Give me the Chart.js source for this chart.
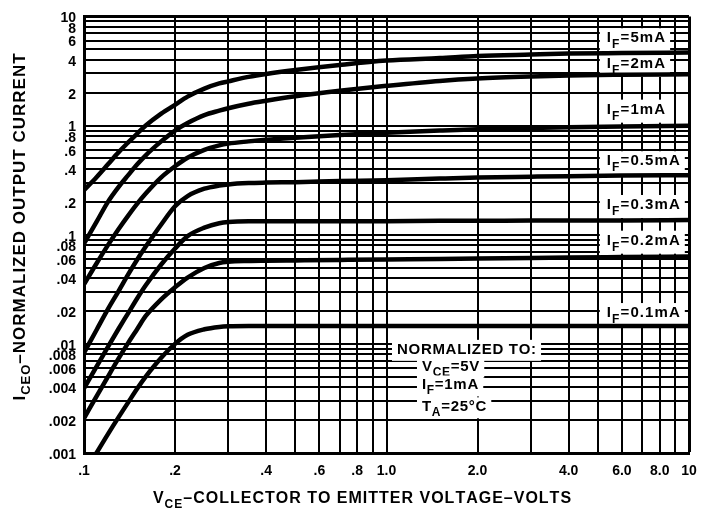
<!DOCTYPE html>
<html><head><meta charset="utf-8">
<script src="https://cdn.jsdelivr.net/npm/chart.js@4/dist/chart.umd.min.js"></script>
<style>html,body{margin:0;padding:0;background:#fff;}canvas{display:block;}</style>
</head><body>
<canvas id="c" width="711" height="510"></canvas>
<script>
// ---- data ----
const vce = [0.1,0.11,0.12,0.13,0.14,0.15,0.16,0.18,0.2,0.22,0.25,0.28,0.3,0.35,0.4,0.5,0.7,1,1.5,2,3,4,6,10];
const if5mA  = [0.256,0.336,0.441,0.568,0.700,0.845,1.0,1.285,1.55,1.84,2.18,2.43,2.54,2.79,2.97,3.23,3.59,3.94,4.15,4.33,4.47,4.56,4.61,4.66];
const if2mA  = [0.0828,0.131,0.2,0.273,0.351,0.441,0.534,0.716,0.90,1.054,1.246,1.369,1.442,1.585,1.687,1.854,2.081,2.31,2.565,2.70,2.82,2.88,2.92,2.95];
const if1mA  = [0.0351,0.0545,0.0802,0.1122,0.1498,0.1925,0.2382,0.3353,0.4236,0.5063,0.5987,0.658,0.683,0.716,0.741,0.774,0.820,0.860,0.899,0.924,0.948,0.965,0.981,0.996];
const if05mA = [0.00828,0.0134,0.0208,0.0303,0.0433,0.0593,0.0778,0.124,0.182,0.226,0.264,0.282,0.289,0.297,0.300,0.303,0.310,0.316,0.327,0.334,0.340,0.344,0.348,0.351];
const if03mA = [0.0039,0.00618,0.0094,0.01368,0.01914,0.0262,0.0344,0.0533,0.0747,0.097,0.116,0.1275,0.131,0.133,0.133,0.133,0.133,0.133,0.134,0.134,0.135,0.135,0.135,0.136];
const if02mA = [0.00208,0.0033,0.00501,0.00731,0.0102,0.01368,0.018,0.0256,0.033,0.0405,0.0496,0.0551,0.0565,0.0574,0.0577,0.0581,0.0587,0.0593,0.0598,0.0605,0.0611,0.0618,0.0624,0.0631];
const if01mA = [null,0.001,0.00149,0.00212,0.00291,0.0039,0.00501,0.00746,0.01,0.0121,0.0136,0.0143,0.0145,0.0146,0.0146,0.0146,0.0146,0.0146,0.0146,0.0146,0.0146,0.0146,0.0146,0.0146];
const seriesNames = ['5mA','2mA','1mA','0.5mA','0.3mA','0.2mA','0.1mA'];
const seriesValues = [if5mA, if2mA, if1mA, if05mA, if03mA, if02mA, if01mA];

// grid / tick values
const xGrid = [0.1,0.2,0.3,0.4,0.5,0.6,0.7,0.8,0.9,1,2,3,4,5,6,7,8,9,10];
const xLabelValues = [0.1,0.2,0.4,0.6,0.8,1,2,4,6,8,10];
const xLabelTexts  = ['.1','.2','.4','.6','.8','1.0','2.0','4.0','6.0','8.0','10'];
const yGrid = [0.001,0.002,0.003,0.004,0.005,0.006,0.007,0.008,0.009,
               0.01,0.02,0.03,0.04,0.05,0.06,0.07,0.08,0.09,
               0.1,0.2,0.3,0.4,0.5,0.6,0.7,0.8,0.9,
               1,2,3,4,5,6,7,8,9,10];
const yLabelValues = [0.001,0.002,0.004,0.006,0.008,0.01,0.02,0.04,0.06,0.08,0.1,0.2,0.4,0.6,0.8,1,2,4,6,8,10];
const yLabelTexts  = ['.001','.002','.004','.006','.008','.01','.02','.04','.06','.08','.1','.2','.4','.6','.8','1','2','4','6','8','10'];

// annotation anchors (data coordinates)
const curveLabelX = 5.35;
const curveLabelY = [5.80, 3.37, 1.285, 0.433, 0.172, 0.081, 0.0176];
const normLines = [
  {parts:[['NORMALIZED TO:',0]], x:1.083, y:0.0081},
  {parts:[['V',0],['CE',1],['=5V',0]], x:1.31, y:0.00569},
  {parts:[['I',0],['F',1],['=1mA',0]], x:1.31, y:0.00382},
  {parts:[['T',0],['A',1],['=25°C',0]], x:1.31, y:0.00241}
];

const FAM = '"Liberation Sans", Arial, Helvetica, sans-serif';

function findLabel(v, vals, texts) {
  for (let i = 0; i < vals.length; i++) {
    if (Math.abs(Math.log10(v) - Math.log10(vals[i])) < 1e-6) return texts[i];
  }
  return '';
}

// draws runs of text (normal / subscript) with manual letter spacing
function drawRich(ctx, parts, x, y, o) {
  const mainF = 'bold ' + o.size + 'px ' + FAM;
  const subF = 'bold ' + o.sub + 'px ' + FAM;
  const sp = o.sp || 0;
  const runW = p => { ctx.font = p[1] ? subF : mainF; let w = 0; for (const ch of p[0]) w += ctx.measureText(ch).width + sp; return w; };
  const widths = parts.map(runW);
  const w = widths.reduce((a, b) => a + b, 0) - sp;
  let sx = o.align === 'center' ? x - w / 2 : x;
  if (o.box) {
    ctx.fillStyle = '#fff';
    ctx.fillRect(sx - o.box[0], y - o.box[1], w + o.box[0] + o.box[2], o.box[1] + o.box[3]);
  }
  ctx.fillStyle = '#000';
  ctx.textBaseline = 'alphabetic';
  ctx.textAlign = 'left';
  parts.forEach(p => {
    ctx.font = p[1] ? subF : mainF;
    const dy = p[1] ? o.shift : 0;
    for (const ch of p[0]) {
      ctx.fillText(ch, sx, y + dy);
      sx += ctx.measureText(ch).width + sp;
    }
  });
}

const annoPlugin = {
  id: 'anno',
  beforeDatasetsDraw(chart) {
    const ctx = chart.ctx, xs = chart.scales.x, ys = chart.scales.y;
    ctx.save();
    seriesNames.forEach((nm, i) => {
      const px = xs.getPixelForValue(curveLabelX);
      const py = ys.getPixelForValue(curveLabelY[i]);
      drawRich(ctx, [['I',0],['F',1],['=' + nm,0]], px, py, {size: 15, sub: 12, shift: 6, sp: 1.1, box: [7, 14, 5, 9]});
    });
    normLines.forEach(l => {
      const px = xs.getPixelForValue(l.x);
      const py = ys.getPixelForValue(l.y);
      drawRich(ctx, l.parts, px, py, {size: 15, sub: 12, shift: 5, sp: 0.7, box: [5, 14, 5, 7]});
    });
    ctx.restore();
  },
  afterDraw(chart) {
    const ctx = chart.ctx;
    ctx.save();
    drawRich(ctx, [['V',0],['CE',1],['–COLLECTOR TO EMITTER VOLTAGE–VOLTS',0]], 362, 503, {size: 16, sub: 12, shift: 5, sp: 1.0, align: 'center'});
    ctx.translate(25, 227);
    ctx.rotate(-Math.PI / 2);
    drawRich(ctx, [['I',0],['CEO',1],['–NORMALIZED OUTPUT CURRENT',0]], 0, 0, {size: 17, sub: 13, shift: 5, sp: 1.0, align: 'center'});
    ctx.restore();
  }
};

const datasets = seriesNames.map((nm, k) => ({
  label: 'IF=' + nm,
  data: vce.map((v, i) => ({x: v, y: seriesValues[k][i]})),
  borderColor: '#000',
  borderWidth: 4.5,
  pointRadius: 0,
  fill: false,
  cubicInterpolationMode: 'monotone',
  borderCapStyle: 'round',
  borderJoinStyle: 'round',
  spanGaps: false
}));

new Chart(document.getElementById('c'), {
  type: 'line',
  data: {datasets},
  options: {
    responsive: false,
    devicePixelRatio: 1,
    animation: false,
    layout: {padding: {left: 0, right: 22, top: 13, bottom: 0}},
    plugins: {legend: {display: false}, tooltip: {enabled: false}},
    scales: {
      x: {
        type: 'logarithmic', min: 0.1, max: 10,
        afterBuildTicks: s => { s.ticks = xGrid.map(v => ({value: v})); },
        afterFit: s => { s.height = 57; },
        grid: {color: '#000', lineWidth: c => (c.index === xGrid.length - 1 ? 3 : 2), drawTicks: false},
        border: {display: true, color: '#000', width: 3},
        ticks: {
          autoSkip: false, maxRotation: 0, minRotation: 0, padding: 10, color: '#000',
          font: {family: FAM, size: 14, weight: 'bold'},
          callback: v => findLabel(v, xLabelValues, xLabelTexts)
        }
      },
      y: {
        type: 'logarithmic', min: 0.001, max: 10,
        afterBuildTicks: s => { s.ticks = yGrid.map(v => ({value: v})); },
        afterFit: s => { s.width = 84; },
        grid: {color: '#000', lineWidth: c => (c.index === yGrid.length - 1 ? 3 : 2), drawTicks: false},
        border: {display: true, color: '#000', width: 3},
        ticks: {
          autoSkip: false, padding: 8, color: '#000', labelOffset: 2,
          font: {family: FAM, size: 14, weight: 'bold'},
          callback: v => findLabel(v, yLabelValues, yLabelTexts)
        }
      }
    }
  },
  plugins: [annoPlugin]
});
</script>
</body></html>
